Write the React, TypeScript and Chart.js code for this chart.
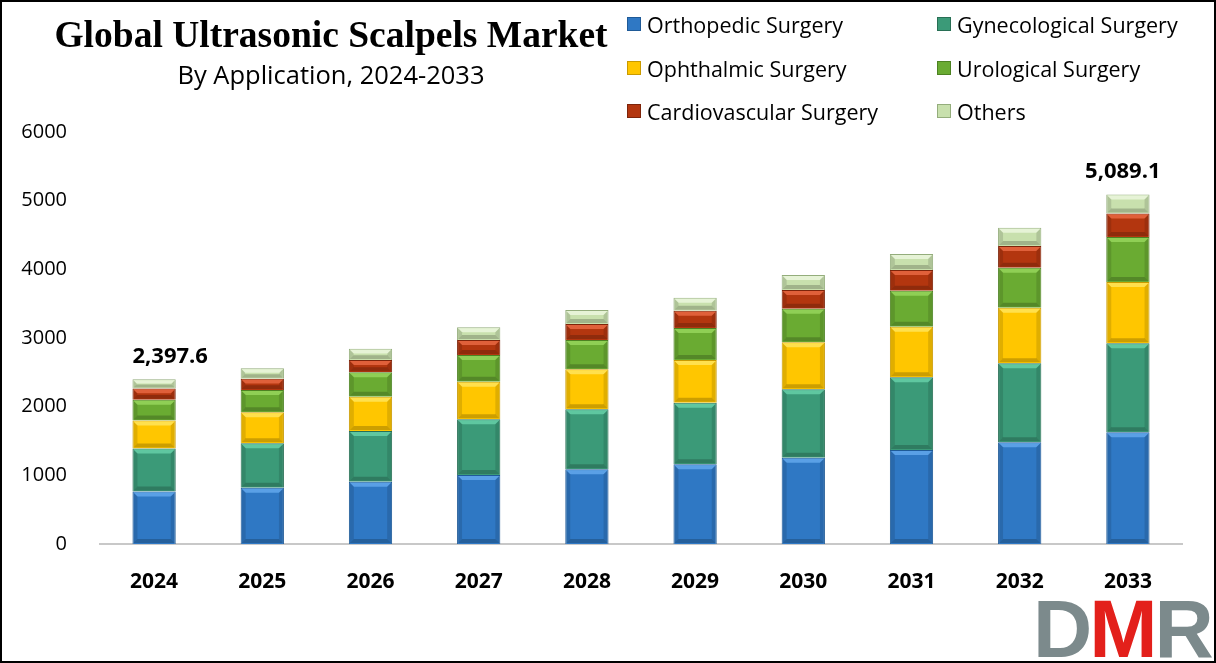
import React, { useEffect, useRef } from "react";
import { Chart, registerables } from "chart.js";

Chart.register(...registerables);

const years = ["2024", "2025", "2026", "2027", "2028", "2029", "2030", "2031", "2032", "2033"];
const orthopedic = [764, 820, 907, 1005, 1088, 1160, 1257, 1369, 1481, 1628];
const gynecological = [625, 646, 739, 811, 874, 898, 996, 1059, 1151, 1297];
const ophthalmic = [409, 452, 500, 548, 582, 622, 684, 737, 809, 889];
const urological = [304, 325, 354, 388, 427, 466, 490, 524, 583, 658];
const cardiovascular = [163, 164, 180, 219, 233, 252, 272, 301, 315, 340];
const others = [133, 151, 164, 185, 204, 189, 218, 233, 267, 277];
const totalLabels = ["2,397.6", "", "", "", "", "", "", "", "", "5,089.1"];
const yTicks = [0, 1000, 2000, 3000, 4000, 5000, 6000];

const seriesNames = [
  "Orthopedic Surgery",
  "Gynecological Surgery",
  "Ophthalmic Surgery",
  "Urological Surgery",
  "Cardiovascular Surgery",
  "Others",
];
const seriesColors = ["#2f78c4", "#3b9a78", "#ffc600", "#6aab32", "#b3360f", "#c8e0ad"];
const seriesBorders = ["#1f5a97", "#286f55", "#c99a00", "#4d8222", "#7d240a", "#94ad7c"];
const seriesHighlights = ["#5aa0e6", "#5fc7a0", "#ffe04d", "#8fcf55", "#e0603a", "#e6f3d6"];
const seriesData = [orthopedic, gynecological, ophthalmic, urological, cardiovascular, others];

const FONT = "'Open Sans', 'Liberation Sans', sans-serif";

const bevelPlugin = {
  id: "bevel",
  afterDatasetsDraw(chart: any) {
    const ctx = chart.ctx;
    ctx.save();
    chart.data.datasets.forEach((_: any, di: number) => {
      const meta = chart.getDatasetMeta(di);
      meta.data.forEach((el: any) => {
        const left = el.x - el.width / 2;
        const right = el.x + el.width / 2;
        const top = Math.min(el.y, el.base);
        const bottom = Math.max(el.y, el.base);
        const h = bottom - top;
        const b = Math.min(4, h / 3);
        // top highlight trapezoid
        ctx.fillStyle = seriesHighlights[di];
        ctx.beginPath();
        ctx.moveTo(left + 1, top + 1);
        ctx.lineTo(right - 1, top + 1);
        ctx.lineTo(right - 1 - b, top + 1 + b);
        ctx.lineTo(left + 1 + b, top + 1 + b);
        ctx.closePath();
        ctx.fill();
        // darker sides
        ctx.fillStyle = "rgba(0,0,0,0.12)";
        ctx.beginPath();
        ctx.moveTo(left + 1, top + 1);
        ctx.lineTo(left + 1 + b, top + 1 + b);
        ctx.lineTo(left + 1 + b, bottom - 1 - b);
        ctx.lineTo(left + 1, bottom - 1);
        ctx.closePath();
        ctx.fill();
        ctx.beginPath();
        ctx.moveTo(right - 1, top + 1);
        ctx.lineTo(right - 1 - b, top + 1 + b);
        ctx.lineTo(right - 1 - b, bottom - 1 - b);
        ctx.lineTo(right - 1, bottom - 1);
        ctx.closePath();
        ctx.fill();
        ctx.fillStyle = "rgba(0,0,0,0.2)";
        ctx.beginPath();
        ctx.moveTo(left + 1, bottom - 1);
        ctx.lineTo(left + 1 + b, bottom - 1 - b);
        ctx.lineTo(right - 1 - b, bottom - 1 - b);
        ctx.lineTo(right - 1, bottom - 1);
        ctx.closePath();
        ctx.fill();
      });
    });
    ctx.restore();
  },
};

const totalsPlugin = {
  id: "totals",
  afterDatasetsDraw(chart: any) {
    const ctx = chart.ctx;
    const lastMeta = chart.getDatasetMeta(chart.data.datasets.length - 1);
    ctx.save();
    ctx.font = `bold 22px ${FONT}`;
    ctx.fillStyle = "#000";
    ctx.textBaseline = "bottom";
    totalLabels.forEach((t, i) => {
      if (!t) return;
      const el = lastMeta.data[i];
      const first = i === 0;
      ctx.textAlign = first ? "left" : "right";
      const x = first ? el.x - el.width / 2 : el.x + el.width / 2 + 11;
      ctx.fillText(t, x, el.y - 12);
    });
    ctx.restore();
  },
};

export default function App() {
  const ref = useRef<HTMLCanvasElement>(null);
  useEffect(() => {
    if (!ref.current) return;
    const chart = new Chart(ref.current, {
      type: "bar",
      data: {
        labels: years,
        datasets: seriesData.map((d, i) => ({
          label: seriesNames[i],
          data: d,
          backgroundColor: seriesColors[i],
          borderColor: seriesBorders[i],
          borderWidth: 1,
          categoryPercentage: 1,
          barPercentage: 0.4,
        })),
      },
      options: {
        responsive: false,
        animation: false,
        layout: { padding: { top: 132, right: 34, left: 0, bottom: 0 } },
        plugins: { legend: { display: false }, title: { display: false }, tooltip: { enabled: false } },
        scales: {
          x: {
            stacked: true,
            grid: { display: false },
            border: { color: "#c8c8c8", width: 2 },
            ticks: { color: "#000", font: { family: FONT, size: 21, weight: "bold" }, padding: 17 },
            afterFit: (s: any) => { s.height = 119; },
          },
          y: {
            stacked: true,
            min: 0,
            max: 6000,
            afterBuildTicks: (s: any) => { s.ticks = yTicks.map((v) => ({ value: v })); },
            grid: { display: false },
            border: { display: false },
            ticks: { color: "#000", font: { family: FONT, size: 20 }, padding: 25, callback: (v: any) => String(v) },
            afterFit: (s: any) => { s.width = 100; },
          },
        },
      },
      plugins: [bevelPlugin, totalsPlugin],
    } as any);
    return () => chart.destroy();
  }, []);

  const legendPos = [
    [627, 24], [937, 24],
    [627, 68], [937, 68],
    [627, 111], [937, 111],
  ];

  return (
    <div style={{ position: "absolute", left: 0, top: 0, width: 1216, height: 663, background: "#fff", overflow: "hidden" }}>
      <canvas ref={ref} width={1216} height={663} style={{ position: "absolute", left: 0, top: 0 }} />
      <div style={{ position: "absolute", left: 0, top: 13, width: 662, textAlign: "center", fontFamily: "'Liberation Serif', 'Times New Roman', serif", fontWeight: "bold", fontSize: 37.5, color: "#000", lineHeight: "44px" }}>
        Global Ultrasonic Scalpels Market
      </div>
      <div style={{ position: "absolute", left: 0, top: 57, width: 662, textAlign: "center", fontFamily: FONT, fontSize: 25.5, color: "#000", lineHeight: "34px" }}>
        By Application, 2024-2033
      </div>
      {seriesNames.map((n, i) => (
        <div key={n} style={{ position: "absolute", left: legendPos[i][0], top: legendPos[i][1] - 14, height: 28, display: "flex", alignItems: "center", fontFamily: FONT, fontSize: 21.5, color: "#000", whiteSpace: "nowrap" }}>
          <span style={{ display: "inline-block", width: 12, height: 12, background: seriesColors[i], border: `1px solid ${seriesBorders[i]}`, marginRight: 6 }} />
          {n}
        </div>
      ))}
      <div style={{ position: "absolute", left: 1033, top: 592, fontFamily: "'Liberation Sans', sans-serif", fontWeight: "bold", fontSize: 82, lineHeight: "74px", letterSpacing: -3 }}>
        <span style={{ color: "#7c8a8c" }}>D</span>
        <span style={{ color: "#e3201b" }}>M</span>
        <span style={{ color: "#7c8a8c" }}>R</span>
      </div>
      <div style={{ position: "absolute", left: 0, top: 0, width: 1216, height: 663, boxSizing: "border-box", border: "2px solid #000", pointerEvents: "none" }} />
    </div>
  );
}
